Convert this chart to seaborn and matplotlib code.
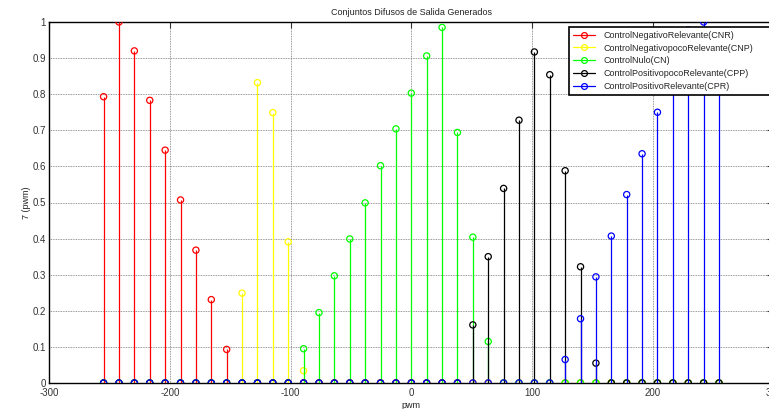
import matplotlib
matplotlib.use("Agg")
import matplotlib.pyplot as plt
import seaborn as sns
import pandas as pd

pwm = [-255, -242.25, -229.5, -216.75, -204, -191.25, -178.5, -165.75, -153, -140.25,
       -127.5, -114.75, -102, -89.25, -76.5, -63.75, -51, -38.25, -25.5, -12.75,
       0, 12.75, 25.5, 38.25, 51, 63.75, 76.5, 89.25, 102, 114.75,
       127.5, 140.25, 153, 165.75, 178.5, 191.25, 204, 216.75, 229.5, 242.25, 255]

cnr = [0.793, 1.0, 0.920, 0.783, 0.645, 0.507, 0.368, 0.231, 0.093, 0, 0, 0, 0, 0,
       0, 0, 0, 0, 0, 0, 0, 0, 0, 0, 0, 0, 0, 0, 0, 0, 0, 0, 0, 0, 0, 0, 0, 0, 0, 0, 0]
cnp = [0, 0, 0, 0, 0, 0, 0, 0, 0, 0.249, 0.832, 0.749, 0.391, 0.034,
       0, 0, 0, 0, 0, 0, 0, 0, 0, 0, 0, 0, 0, 0, 0, 0, 0, 0, 0, 0, 0, 0, 0, 0, 0, 0, 0]
cn = [0, 0, 0, 0, 0, 0, 0, 0, 0, 0, 0, 0, 0, 0.095, 0.195, 0.297, 0.399, 0.499, 0.602,
      0.704, 0.803, 0.906, 0.985, 0.694, 0.404, 0.115,
      0, 0, 0, 0, 0, 0, 0, 0, 0, 0, 0, 0, 0, 0, 0]
cpp = [0, 0, 0, 0, 0, 0, 0, 0, 0, 0, 0, 0, 0, 0, 0, 0, 0, 0, 0, 0, 0, 0, 0, 0,
       0.161, 0.350, 0.539, 0.728, 0.917, 0.854, 0.588, 0.322, 0.055,
       0, 0, 0, 0, 0, 0, 0, 0]
cpr = [0, 0, 0, 0, 0, 0, 0, 0, 0, 0, 0, 0, 0, 0, 0, 0, 0, 0, 0, 0, 0, 0, 0, 0, 0, 0, 0, 0, 0, 0,
       0.065, 0.178, 0.294, 0.407, 0.522, 0.635, 0.750, 0.864, 0.978, 1.0, 0.85]

labels = ["ControlNegativoRelevante(CNR)", "ControlNegativopocoRelevante(CNP)",
          "ControlNulo(CN)", "ControlPositivopocoRelevante(CPP)",
          "ControlPositivoRelevante(CPR)"]
series = [cnr, cnp, cn, cpp, cpr]
colors = ["#ff0000", "#ffff00", "#00ff00", "#000000", "#0000ff"]

xticks = [-300, -200, -100, 0, 100, 200, 300]
yticks = [0, 0.1, 0.2, 0.3, 0.4, 0.5, 0.6, 0.7, 0.8, 0.9, 1]
ytick_labels = ["0", "0.1", "0.2", "0.3", "0.4", "0.5", "0.6", "0.7", "0.8", "0.9", "1"]

sns.set_style("white")
plt.rcParams['font.family'] = ['Liberation Sans', 'DejaVu Sans']

fig = plt.figure(figsize=(7.69, 4.09), dpi=100)
ax = fig.add_axes([49.3 / 769, 26 / 409, 724 / 769, 361 / 409])

handles = []
for k, (vals, c, lab) in enumerate(zip(series, colors, labels)):
    df = pd.DataFrame({"pwm": pwm, "mu": vals})
    ax.vlines(df["pwm"], 0, df["mu"], color=c, lw=0.9, zorder=3 + 2 * k)
    sns.scatterplot(data=df, x="pwm", y="mu", ax=ax, marker="o", s=20,
                    facecolor="none", edgecolor=c, linewidth=0.9,
                    zorder=4 + 2 * k, legend=False)
    h, = ax.plot([], [], color=c, lw=0.9, marker="o", ms=4.2, mfc="none", mec=c, mew=0.9)
    handles.append(h)

ax.set_xlim(-300, 300)
ax.set_ylim(0, 1)
ax.set_xticks(xticks)
ax.set_yticks(yticks)
ax.set_xticklabels([str(t) for t in xticks], fontsize=7)
ax.set_yticklabels(ytick_labels, fontsize=7)
ax.tick_params(direction="in", length=4.3, width=0.8, top=True, right=True, colors="#333333")
ax.tick_params(axis="x", pad=3.5)
ax.tick_params(axis="y", pad=2.5)
ax.grid(True, color="#777777", linestyle=(0, (1, 1)), linewidth=0.6)
ax.set_axisbelow(True)
for sp in ax.spines.values():
    sp.set_color("black")
    sp.set_linewidth(1.0)
    sp.set_visible(True)

ax.set_title("Conjuntos Difusos de Salida Generados", fontsize=6.5, color="#222222", pad=5)
ax.set_xlabel("pwm", fontsize=6.5, color="#222222", labelpad=2)
ax.set_ylabel("7 (pwm)", fontsize=6.5, color="#222222", labelpad=1)

leg = fig.legend(handles, labels, loc="upper left",
                 bbox_to_anchor=(569 / 769, 1 - 26.7 / 409, 225 / 769, 0),
                 mode="expand",
                 fontsize=6.5, frameon=True, fancybox=False, framealpha=1,
                 edgecolor="black", handlelength=2.4, handletextpad=1.0,
                 borderpad=0.45, labelspacing=0.42, borderaxespad=0)
leg.get_frame().set_linewidth(1.2)
leg.set_zorder(20)

fig.savefig("out.png", dpi=100)
